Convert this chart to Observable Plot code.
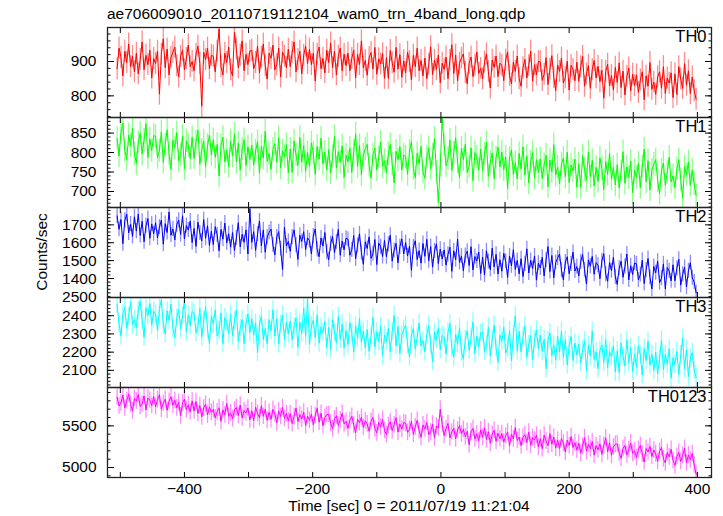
<!DOCTYPE html>
<html><head><meta charset="utf-8">
<script src="https://cdn.jsdelivr.net/npm/d3@7"></script>
<script src="https://cdn.jsdelivr.net/npm/@observablehq/plot@0.6"></script>
<style>
body{margin:0;background:#fff;}
#wrap{position:relative;width:723px;height:516px;font-family:"Liberation Sans",Arial,sans-serif;color:#000;}
.panel{position:absolute;left:0;}
#title{position:absolute;left:107px;top:5px;font-size:15.5px;white-space:nowrap;}
#ylab{position:absolute;left:42px;top:252px;transform:translate(-50%,-50%) rotate(-90deg);font-size:15.5px;white-space:nowrap;}
#xlab{position:absolute;left:409px;top:497px;transform:translateX(-50%);font-size:15.5px;white-space:nowrap;}
</style></head>
<body>
<div id="wrap">
  <div id="title">ae706009010_20110719112104_wam0_trn_4band_long.qdp</div>
  <div id="ylab">Counts/sec</div>
  <div id="xlab">Time [sec] 0 = 2011/07/19 11:21:04</div>
</div>
<script>
// time bins (sec), every 3 s from -505 to 398
const times = d3.range(-505, 400, 3);

const th0 = [
879,939,912,858,930,897,951,885,915,870,
924,864,906,957,876,918,891,933,852,909,
894,930,805,921,966,882,936,861,912,927,
942,888,855,915,933,876,909,948,885,900,
873,921,945,894,770,927,906,939,879,918,
915,870,930,995,885,861,924,897,942,876,
858,985,936,882,918,960,873,921,891,930,
933,879,897,945,867,912,951,888,849,924,
909,948,876,891,939,855,927,915,882,936,
885,927,957,870,906,930,864,918,945,894,
936,891,924,843,921,942,879,909,867,933,
897,954,882,930,861,915,939,873,921,888,
924,873,909,933,852,921,891,960,882,903,
860,911,926,878,941,863,908,893,923,851,
911,851,932,896,869,941,878,920,854,902,
867,927,900,846,918,885,939,873,903,858,
910,850,892,943,862,904,877,919,838,895,
877,913,850,904,949,865,919,844,895,910,
922,868,835,895,913,856,889,928,865,880,
850,898,922,871,823,904,883,916,856,895,
889,844,904,928,859,835,898,871,916,850,
828,882,906,852,888,930,843,891,861,900,
899,845,863,911,833,878,917,854,815,890,
871,910,838,853,901,817,889,877,844,898,
843,885,915,828,864,888,822,876,903,852,
886,841,874,793,871,892,829,859,817,883,
839,896,824,872,803,857,881,815,863,830,
861,810,846,870,789,858,828,897,819,840,
804,855,870,822,885,807,852,837,867,795,
864,804,885,849,822,894,831,873,807,855,
815,790];

const th1 = [
836,791,851,875,806,782,845,818,863,797,
772,826,850,796,832,874,787,835,805,844,
841,787,805,853,775,820,859,796,757,832,
812,851,779,794,842,758,830,818,785,839,
785,827,857,770,806,830,764,818,845,794,
833,788,821,740,818,839,776,806,764,830,
791,848,776,824,755,809,833,767,815,782,
819,768,804,828,747,816,786,855,777,798,
757,808,823,775,838,760,805,790,820,748,
809,749,830,794,767,839,776,818,752,800,
765,825,798,744,816,783,837,771,801,756,
808,748,790,841,760,802,775,817,736,793,
776,812,749,803,848,764,818,743,794,809,
821,767,734,794,812,755,788,827,764,779,
749,797,821,770,722,803,782,815,755,794,
789,744,804,828,759,735,798,771,816,750,
734,788,812,758,794,836,749,672,767,888,
820,766,784,832,754,799,838,775,736,811,
782,821,749,764,812,728,800,788,755,809,
754,796,826,739,775,799,733,787,814,763,
801,756,789,708,786,807,744,774,732,798,
758,815,743,791,722,776,800,734,782,749,
784,733,769,793,712,781,751,820,742,763,
720,771,786,738,801,723,768,753,783,711,
771,711,792,756,729,801,738,780,714,762,
726,786,759,705,777,744,798,732,762,717,
769,709,751,802,721,763,736,778,697,754,
737,773,710,764,809,725,779,704,755,770,
782,728,695,755,773,716,749,788,725,740,
710,758,782,731,683,764,743,776,716,755,
720,690];

const th2 = [
1750,1675,1730,1595,1725,1760,1655,1705,1635,1745,
1665,1760,1640,1720,1605,1695,1735,1625,1705,1650,
1712,1627,1687,1727,1592,1707,1657,1772,1642,1677,
1616,1701,1726,1646,1751,1621,1696,1671,1721,1601,
1680,1580,1715,1655,1610,1730,1625,1695,1585,1665,
1590,1690,1645,1555,1675,1620,1710,1600,1650,1575,
1657,1557,1627,1712,1577,1647,1602,1672,1537,1790,
1602,1662,1557,1647,1722,1582,1672,1547,1632,1657,
1677,1587,1532,1632,1662,1567,1450,1687,1582,1607,
1552,1632,1672,1587,1507,1642,1607,1662,1562,1627,
1612,1537,1637,1677,1562,1522,1627,1582,1657,1547,
1505,1595,1635,1545,1605,1675,1530,1610,1560,1625,
1620,1530,1560,1640,1510,1585,1650,1545,1480,1605,
1568,1633,1513,1538,1618,1478,1598,1578,1523,1613,
1522,1592,1642,1497,1557,1597,1487,1577,1622,1537,
1601,1526,1581,1446,1576,1611,1506,1556,1486,1596,
1524,1619,1499,1579,1464,1554,1594,1484,1564,1509,
1560,1475,1535,1575,1440,1555,1505,1620,1490,1525,
1443,1528,1553,1473,1578,1448,1523,1498,1548,1428,
1520,1420,1555,1495,1450,1570,1465,1535,1425,1505,
1441,1541,1496,1406,1526,1471,1561,1451,1501,1426,
1511,1411,1481,1566,1431,1501,1456,1526,1391,1486,
1459,1519,1414,1504,1579,1439,1529,1404,1489,1514,
1537,1447,1392,1492,1522,1427,1482,1547,1442,1467,
1414,1494,1534,1449,1369,1504,1469,1524,1424,1489,
1474,1399,1499,1539,1424,1384,1489,1444,1519,1409,
1367,1457,1497,1407,1467,1537,1392,1472,1422,1487,
1482,1392,1422,1502,1372,1447,1512,1407,1342,1467,
1432,1497,1377,1402,1482,1342,1462,1442,1387,1477,
1388,1458,1508,1363,1423,1463,1353,1443,1488,1403,
1380,1320];

const th3 = [
2463,2355,2289,2409,2445,2331,2397,2475,2349,2379,
2335,2431,2479,2377,2281,2443,2401,2467,2347,2425,
2409,2319,2439,2487,2349,2301,2427,2373,2463,2331,
2280,2388,2436,2328,2400,2484,2310,2406,2346,2424,
2415,2307,2343,2439,2283,2373,2451,2325,2247,2397,
2354,2432,2288,2318,2414,2246,2390,2366,2300,2408,
2289,2373,2433,2259,2331,2379,2247,2355,2409,2307,
2384,2294,2360,2198,2354,2396,2270,2330,2246,2378,
2318,2432,2288,2384,2246,2354,2402,2270,2366,2300,
2370,2268,2340,2388,2226,2364,2304,2442,2286,2495,
2243,2345,2375,2279,2405,2249,2339,2309,2369,2225,
2336,2216,2378,2306,2252,2396,2270,2354,2222,2318,
2242,2362,2308,2200,2344,2278,2386,2254,2314,2224,
2324,2204,2288,2390,2228,2312,2258,2342,2180,2294,
2258,2330,2204,2312,2402,2234,2342,2192,2294,2324,
2348,2240,2174,2294,2330,2216,2282,2360,2234,2264,
2202,2298,2346,2244,2148,2310,2268,2334,2214,2292,
2280,2190,2310,2358,2220,2172,2298,2244,2334,2202,
2162,2270,2318,2210,2282,2366,2192,2288,2228,2306,
2312,2204,2240,2336,2180,2270,2348,2222,2144,2294,
2260,2338,2194,2224,2320,2152,2296,2400,2206,2314,
2202,2286,2346,2172,2244,2292,2160,2268,2322,2220,
2294,2204,2270,2108,2264,2306,2180,2240,2156,2288,
2202,2316,2172,2268,2130,2238,2286,2154,2250,2184,
2244,2142,2214,2262,2100,2238,2178,2316,2160,2202,
2108,2210,2240,2144,2270,2114,2204,2174,2234,2090,
2208,2088,2250,2178,2124,2268,2142,2226,2094,2190,
2117,2237,2183,2075,2219,2153,2261,2129,2189,2099,
2200,2080,2164,2266,2104,2188,2134,2218,2056,2170,
2132,2204,2078,2186,2276,2108,2216,2066,2168,2198,
2100,2060];

const th0123 = [
5846,5738,5774,5870,5714,5804,5882,5756,5678,5828,
5798,5876,5732,5762,5858,5690,5834,5810,5744,5852,
5729,5813,5873,5699,5771,5819,5687,5795,5849,5747,
5806,5716,5782,5620,5776,5818,5692,5752,5668,5800,
5678,5792,5648,5744,5606,5714,5762,5630,5726,5660,
5698,5596,5668,5716,5554,5692,5632,5770,5614,5656,
5588,5690,5720,5624,5750,5594,5684,5654,5714,5570,
5681,5561,5723,5651,5597,5741,5615,5699,5567,5663,
5577,5697,5643,5535,5679,5613,5721,5589,5649,5559,
5647,5527,5611,5713,5551,5635,5581,5665,5503,5617,
5567,5639,5513,5621,5711,5543,5651,5501,5603,5633,
5638,5530,5464,5584,5620,5506,5572,5650,5524,5554,
5470,5566,5614,5512,5416,5578,5536,5602,5482,5560,
5524,5434,5554,5602,5464,5416,5542,5488,5578,5446,
5395,5503,5551,5443,5515,5599,5425,5521,5461,5539,
5530,5422,5458,5554,5398,5488,5566,5440,5362,5512,
5462,5540,5396,5426,5522,5354,5498,5474,5700,5516,
5384,5468,5528,5354,5426,5474,5342,5450,5504,5402,
5458,5368,5434,5272,5428,5470,5344,5404,5320,5452,
5363,5477,5333,5429,5291,5399,5447,5315,5411,5345,
5408,5306,5378,5426,5264,5402,5342,5480,5324,5366,
5263,5365,5395,5299,5425,5269,5359,5329,5389,5245,
5346,5226,5388,5316,5262,5406,5280,5364,5232,5328,
5227,5347,5293,5185,5329,5263,5371,5239,5299,5209,
5292,5172,5256,5358,5196,5280,5226,5310,5148,5262,
5212,5284,5158,5266,5356,5188,5296,5146,5248,5278,
5283,5175,5109,5229,5265,5151,5217,5295,5169,5199,
5120,5216,5264,5162,5066,5228,5186,5252,5132,5210,
5164,5074,5194,5242,5104,5056,5182,5128,5218,5086,
5025,5133,5181,5073,5145,5229,5055,5151,5091,5169,
5030,4920];

// typical 1-sigma error per band (counts/sec)
const errors = [32, 30, 42, 50, 100];
const names = ["TH0", "TH1", "TH2", "TH3", "TH0123"];
const colors = ["#ff0000", "#00ff00", "#0000ff", "#00ffff", "#ff00ff"];
const series = [th0, th1, th2, th3, th0123];
const yDomains = [[737, 999], [659, 890], [1294, 1797], [2006, 2500], [4880, 5960]];
const yMajor = [[800, 900], [700, 750, 800, 850], [1400, 1500, 1600, 1700], [2100, 2200, 2300, 2400, 2500], [5000, 5500]];
const yMinorStep = [20, 10, 20, 20, 100];
const xDomain = [-520, 422];
const xLabels = [-400, -200, 0, 200, 400];
const xTicks = d3.range(-500, 401, 100);

const wrap = document.getElementById("wrap");
const panelTop = 27, panelH = 90;
const empty = () => "";

series.forEach((vals, k) => {
  const last = k === series.length - 1;
  const data = times.map((t, i) => ({t, v: vals[i]}));
  const err = errors[k];
  const dom = yDomains[k];
  const minor = d3.range(Math.ceil(dom[0] / yMinorStep[k]) * yMinorStep[k], dom[1] + 0.001, yMinorStep[k]);
  const marks = [
    Plot.ruleX(data, {x: "t", y1: d => d.v - err, y2: d => d.v + err, stroke: colors[k], strokeOpacity: 0.45, strokeWidth: 1.3, clip: true}),
    Plot.line(data, {x: "t", y: "v", stroke: colors[k], strokeWidth: 1, clip: true}),
    Plot.axisY({anchor: "left", ticks: yMajor[k], tickSize: 0, tickPadding: 11, label: null, fontSize: 15.5, tickFormat: d => String(d)}),
    Plot.axisY({anchor: "left", ticks: yMajor[k], tickSize: -7, tickFormat: empty, label: null}),
    Plot.axisY({anchor: "left", ticks: minor, tickSize: -3.5, tickFormat: empty, label: null}),
    Plot.axisY({anchor: "right", ticks: yMajor[k], tickSize: -7, tickFormat: empty, label: null}),
    Plot.axisY({anchor: "right", ticks: minor, tickSize: -3.5, tickFormat: empty, label: null}),
    Plot.axisX({anchor: "top", ticks: xTicks, tickSize: -5, tickFormat: empty, label: null}),
    Plot.axisX({anchor: "bottom", ticks: xTicks, tickSize: -5, tickFormat: empty, label: null}),
    Plot.frame({stroke: "#222", strokeWidth: 1.3}),
    Plot.text([names[k]], {frameAnchor: "top-right", dx: -5, dy: 3, lineAnchor: "top", fontSize: 16.5, fill: "#000"})
  ];
  if (last) marks.push(Plot.axisX({anchor: "bottom", ticks: xLabels, tickSize: 0, tickPadding: 5, label: null, fontSize: 15.5, tickFormat: d => d < 0 ? "\u2212" + Math.abs(d) : String(d)}));
  const chart = Plot.plot({
    width: 723,
    height: panelH + (last ? 30 : 0),
    marginLeft: 107, marginRight: 12, marginTop: 0, marginBottom: last ? 30 : 0,
    x: {domain: xDomain},
    y: {domain: dom},
    style: {background: "transparent", overflow: "visible", fontFamily: "Liberation Sans, Arial, sans-serif", color: "#000"},
    marks
  });
  chart.classList.add("panel");
  chart.style.top = (panelTop + panelH * k) + "px";
  wrap.appendChild(chart);
});
</script>
</body></html>
